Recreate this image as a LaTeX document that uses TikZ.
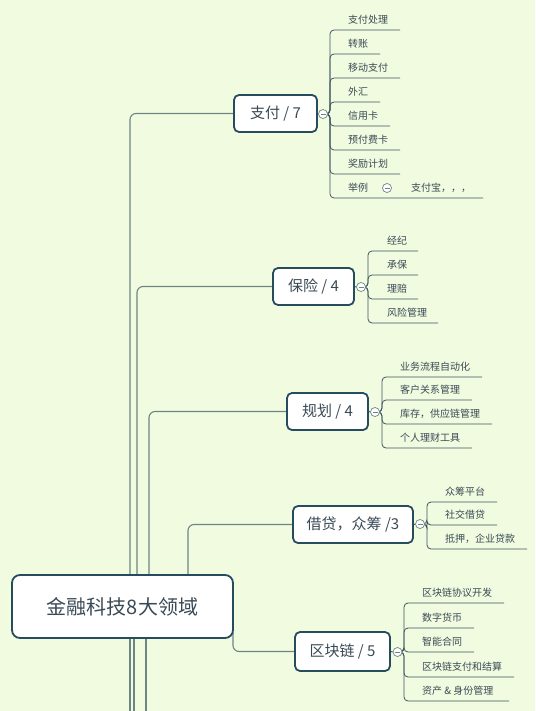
\documentclass[tikz,border=0pt]{standalone}
\usepackage{fontspec}
\setmainfont{Noto Sans CJK SC}
\definecolor{bgc}{HTML}{F1FBE0}
\definecolor{bdc}{HTML}{264D5E}
\definecolor{txc}{HTML}{3A4A55}
\definecolor{lnc}{HTML}{6E8585}
\definecolor{chc}{HTML}{3D5560}
\pgfdeclarelayer{back}
\pgfdeclarelayer{lines}
\pgfsetlayers{back,lines,main}
\begin{document}
\begin{tikzpicture}[x=1pt,y=-1pt,
  topic/.style={draw=bdc, line width=1.8pt, rounded corners=5pt, fill=white, text=txc, inner sep=0pt, minimum height=37pt, font=\fontsize{15}{18}\selectfont},
  roottopic/.style={topic, minimum width=221pt, minimum height=63pt, rounded corners=8pt, font=\fontsize{20}{24}\selectfont},
  leaf/.style={anchor=west, text=txc, inner sep=0pt, font=\fontsize{10}{12}\selectfont},
  toggle/.style={circle, draw=lnc, line width=0.7pt, fill=white, minimum size=9pt, inner sep=0pt,
    path picture={\draw[lnc, line width=0.6pt] ([xshift=2pt]path picture bounding box.west) -- ([xshift=-2pt]path picture bounding box.east);}},
  mainconn/.style={draw=lnc, line width=1.1pt, rounded corners=6pt},
  childconn/.style={draw=chc, line width=0.8pt, rounded corners=4pt}
]
\begin{pgfonlayer}{back}
\fill[bgc] (0,0) rectangle (535,711);
\end{pgfonlayer}
\useasboundingbox (0,0) rectangle (535,711);

\coordinate (r1) at (130,575);
\coordinate (r2) at (137,575);
\coordinate (r3) at (149,575);
\coordinate (r4) at (188,575);
\coordinate (r5) at (233,632);
\coordinate (b1s) at (130,638);
\coordinate (b2s) at (134,638);
\coordinate (b3s) at (146,638);
\coordinate (b1e) at (130,711);
\coordinate (b2e) at (134,711);
\coordinate (b3e) at (146,711);

% topics
\node[roottopic] (root) at (122.5,606.5) {金融科技8大领域};
\node[topic, minimum width=83pt] (zf) at (275.5,113.5) {支付 / 7};
\node[topic, minimum width=81pt] (bx) at (313.5,286.5) {保险 / 4};
\node[topic, minimum width=81pt] (gh) at (327.5,411.5) {规划 / 4};
\node[topic, minimum width=120pt] (jd) at (353,524.5) {借贷，众筹 /3};
\node[topic, minimum width=95pt, minimum height=39pt] (qk) at (342.5,651.5) {区块链 / 5};

% toggles
\node[toggle] (t1) at (323,114) {};
\node[toggle] (t2) at (361,287) {};
\node[toggle] (t3) at (375,412) {};
\node[toggle] (t4) at (420,524) {};
\node[toggle] (t5) at (397.5,652) {};
\node[toggle] (t6) at (387,188) {};

\begin{pgfonlayer}{lines}
\draw[mainconn] (r1) |- (zf);
\draw[mainconn] (r2) |- (bx);
\draw[mainconn] (r3) |- (gh);
\draw[mainconn] (r4) |- (jd);
\draw[mainconn] (r5) |- (qk);
\draw[mainconn] (b1s) -- (b1e);
\draw[mainconn] (b2s) -- (b2e);
\draw[mainconn] (b3s) -- (b3e);
\draw[chc, line width=0.9pt] (zf.east) -- (t1.west);
\draw[chc, line width=0.9pt] (bx.east) -- (t2.west);
\draw[chc, line width=0.9pt] (gh.east) -- (t3.west);
\draw[chc, line width=0.9pt] (jd.east) -- (t4.west);
\draw[chc, line width=0.9pt] (qk.east) -- (t5.west);
\end{pgfonlayer}

% 支付 children
\foreach \i/\y/\e/\t in {1/30/400/支付处理, 2/54/380/转账, 3/78/400/移动支付, 4/102/380/外汇, 5/126/390/信用卡, 6/150/400/预付费卡, 7/174/400/奖励计划, 8/198/483/举例}{
  \coordinate (zfa\i) at (330,\y);
  \coordinate (zfe\i) at (\e,\y);
  \node[leaf] (zfl\i) at (348,\y-10) {\t};
  \begin{pgfonlayer}{lines}
  \draw[childconn] (t1.center) -| (zfa\i) -- (zfe\i);
  \end{pgfonlayer}
}
\node[leaf] (zfx) at (411,188) {支付宝，，，};

% 保险 children
\foreach \i/\y/\e/\t in {1/251/418/经纪, 2/275/418/承保, 3/299/418/理赔, 4/323/438/风险管理}{
  \coordinate (bxa\i) at (368,\y);
  \coordinate (bxe\i) at (\e,\y);
  \node[leaf] (bxl\i) at (387,\y-10) {\t};
  \begin{pgfonlayer}{lines}
  \draw[childconn] (t2.center) -| (bxa\i) -- (bxe\i);
  \end{pgfonlayer}
}

% 规划 children
\foreach \i/\y/\e/\t in {1/377/482/业务流程自动化, 2/400/472/客户关系管理, 3/424/492/库存，供应链管理, 4/448/472/个人理财工具}{
  \coordinate (gha\i) at (382,\y);
  \coordinate (ghe\i) at (\e,\y);
  \node[leaf] (ghl\i) at (400,\y-10) {\t};
  \begin{pgfonlayer}{lines}
  \draw[childconn] (t3.center) -| (gha\i) -- (ghe\i);
  \end{pgfonlayer}
}

% 借贷 children
\foreach \i/\y/\e/\t in {1/502/497/众筹平台, 2/525/497/社交借贷, 3/549/527/抵押，企业贷款}{
  \coordinate (jda\i) at (427,\y);
  \coordinate (jde\i) at (\e,\y);
  \node[leaf] (jdl\i) at (445,\y-10) {\t};
  \begin{pgfonlayer}{lines}
  \draw[childconn] (t4.center) -| (jda\i) -- (jde\i);
  \end{pgfonlayer}
}

% 区块链 children
\foreach \i/\y/\e/\t in {1/603/504/区块链协议开发, 2/628/474/数字货币, 3/652/474/智能合同, 4/677/514/区块链支付和结算, 5/701/509/资产 \& 身份管理}{
  \coordinate (qka\i) at (404,\y);
  \coordinate (qke\i) at (\e,\y);
  \node[leaf] (qkl\i) at (422,\y-10) {\t};
  \begin{pgfonlayer}{lines}
  \draw[childconn] (t5.center) -| (qka\i) -- (qke\i);
  \end{pgfonlayer}
}
\end{tikzpicture}
\end{document}
